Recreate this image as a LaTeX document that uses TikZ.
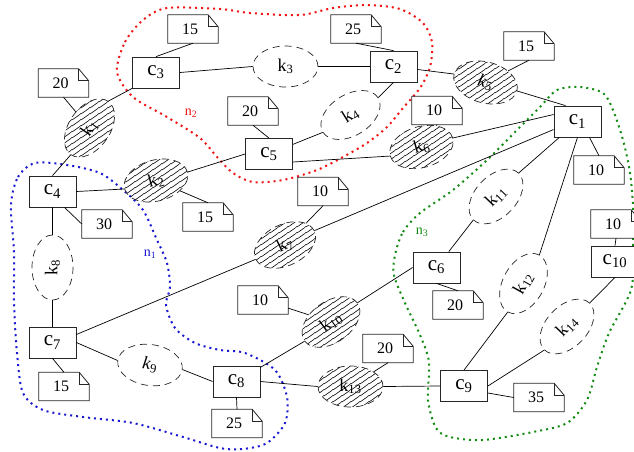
\documentclass[tikz,border=0pt]{standalone}
\usepackage{fontspec}
\setmainfont{Liberation Serif}
\usetikzlibrary{shapes.geometric,patterns}
\pgfdeclarepatternformonly{hatchlines}{\pgfqpoint{0pt}{0pt}}{\pgfqpoint{9pt}{6.3pt}}{\pgfqpoint{9pt}{6.3pt}}{%
  \pgfsetdash{}{0pt}%
  \pgfsetlinewidth{0.65pt}%
  \pgfpathmoveto{\pgfqpoint{0pt}{0pt}}%
  \pgfpathlineto{\pgfqpoint{9pt}{6.3pt}}%
  \pgfpathmoveto{\pgfqpoint{9pt}{0pt}}%
  \pgfpathlineto{\pgfqpoint{18pt}{6.3pt}}%
  \pgfpathmoveto{\pgfqpoint{-9pt}{0pt}}%
  \pgfpathlineto{\pgfqpoint{0pt}{6.3pt}}%
  \pgfusepath{stroke}}
\definecolor{regred}{RGB}{240,20,20}
\definecolor{regblue}{RGB}{25,25,210}
\definecolor{reggreen}{RGB}{20,140,20}
\newcommand\notebox[3]{%
  \node[note] (#1) at (#2) {\kern-6pt#3};
  \draw[noteline] (#1.north west) -- ([xshift=-10pt]#1.north east) -- ([yshift=-12pt]#1.north east) -- (#1.south east) -- (#1.south west) -- cycle;
  \draw[noteline] ([xshift=-10pt]#1.north east) -- ([xshift=-10pt,yshift=-12pt]#1.north east) -- ([yshift=-12pt]#1.north east);
}
\begin{document}
\begin{tikzpicture}[x=1pt,y=-1pt,
  cbox/.style={draw=black!85, line width=0.8pt, fill=white, minimum width=47pt, minimum height=31pt, inner sep=0pt, font=\fontsize{21}{25}\selectfont},
  note/.style={fill=white, minimum width=50pt, minimum height=28pt, inner sep=0pt, font=\fontsize{16}{19}\selectfont},
  noteline/.style={draw=black!85, line width=0.8pt, line join=miter},
  kd/.style={ellipse, draw=black!85, dash pattern=on 7pt off 5pt, line width=0.7pt, minimum width=65pt, minimum height=41pt, inner sep=0pt, font=\fontsize{18}{21}\selectfont},
  kh/.style={kd, pattern=hatchlines},
  link/.style={line width=0.7pt},
  region/.style={line width=2pt, dash pattern=on 2pt off 4pt},
  nlab/.style={font=\fontsize{14}{16}\selectfont, inner sep=1pt}
]
\useasboundingbox (0,0) rectangle (634,451);

% regions
\draw[region, regred] plot[smooth cycle] coordinates {(117,72) (125,42) (143,20) (167,8) (220,9) (250,13) (300,15) (333,8) (367,5) (400,9) (423,23) (432,42) (430,67) (420,88) (403,108) (387,127) (367,143) (343,157) (317,170) (283,180) (253,182) (233,173) (217,157) (200,138) (167,117) (133,97)};
\draw[region, regblue] plot[smooth cycle] coordinates {(11,205) (18,177) (35,163) (67,165) (100,173) (123,190) (143,210) (157,240) (167,263) (170,287) (166,305) (175,328) (195,343) (220,350) (245,353) (275,370) (287,397) (285,423) (267,443) (243,449) (220,448) (183,437) (133,423) (83,417) (43,410) (23,393) (17,353) (14,303) (14,253)};
\draw[region, reggreen] plot[smooth cycle] coordinates {(395,255) (403,232) (420,213) (453,190) (487,160) (520,127) (540,107) (557,90) (580,87) (603,93) (613,110) (623,140) (630,173) (633,207) (633,250) (631,290) (609,333) (597,367) (587,400) (567,423) (533,432) (483,440) (450,437) (436,428) (428,400) (429,362) (420,335) (405,303) (394,275)};

\node[nlab, text=regred] (n2lab) at (191,113) {n\textsubscript{2}};
\node[nlab, text=regblue] (n1lab) at (150,254) {n\textsubscript{1}};
\node[nlab, text=reggreen] (n3lab) at (422,232) {n\textsubscript{3}};

% boxes
\node[cbox] (c1) at (577.5,121.5) {c\textsubscript{1}};
\node[cbox] (c2) at (393.5,66.5) {c\textsubscript{2}};
\node[cbox] (c3) at (156,72.5) {c\textsubscript{3}};
\node[cbox] (c4) at (52.5,191.5) {c\textsubscript{4}};
\node[cbox] (c5) at (269,154) {c\textsubscript{5}};
\node[cbox] (c6) at (436.5,267.5) {c\textsubscript{6}};
\node[cbox] (c7) at (52.5,342.5) {c\textsubscript{7}};
\node[cbox] (c8) at (236.5,381.5) {c\textsubscript{8}};
\node[cbox] (c9) at (464,386) {c\textsubscript{9}};
\node[cbox] (c10) at (615,261.5) {c\textsubscript{10}};

% links
\node[kh, rotate=55] (k1) at (89.5,128) {k\textsubscript{1}};
\node[kh, rotate=15] (k2) at (156,180.5) {k\textsubscript{2}};
\node[kd] (k3) at (285.5,66.5) {k\textsubscript{3}};
\node[kd, rotate=32] (k4) at (350.5,115) {k\textsubscript{4}};
\node[kh, rotate=-15] (k5) at (485.5,82.5) {\textit{k}\textsubscript{5}};
\node[kh, rotate=16] (k6) at (421.5,147) {k\textsubscript{6}};
\node[kh, rotate=26] (k7) at (285,245) {k\textsubscript{7}};
\node[kd, rotate=90] (k8) at (52.5,267.5) {k\textsubscript{8}};
\node[kd, rotate=-8] (k9) at (150,365) {\textit{k}\textsubscript{9}};
\node[kh, rotate=36] (k10) at (331,322) {k\textsubscript{10}};
\node[kd, rotate=46] (k11) at (496,196.5) {k\textsubscript{11}};
\node[kd, rotate=61] (k12) at (523.5,283.5) {k\textsubscript{12}};
\node[kh] (k13) at (350.5,386.5) {k\textsubscript{13}};
\node[kd, rotate=46] (k14) at (567,326.5) {k\textsubscript{14}};

% notes
\notebox{nA}{193,29}{15}
\notebox{nB}{63.5,83}{20}
\notebox{nC}{356,29}{25}
\notebox{nD}{529,46}{15}
\notebox{nE}{253,111}{20}
\notebox{nF}{437,110.5}{10}
\notebox{nG}{599,170}{10}
\notebox{nH}{616,224}{10}
\notebox{nI}{107,224}{30}
\notebox{nJ}{208,217}{15}
\notebox{nK}{323,191.5}{10}
\notebox{nL}{263,300}{10}
\notebox{nM}{458,305}{20}
\notebox{nN}{64,386.5}{15}
\notebox{nO}{237,423.5}{25}
\notebox{nP}{388,348.5}{20}
\notebox{nQ}{539,397.5}{35}

% connectors
\draw[link] (c4.north) -- (k1.west);
\draw[link] (k1.east) -- (c3.south west);
\draw[link] (nB.south) -- (k1);
\draw[link] (c4.east) -- (k2.west);
\draw[link] (k2.east) -- (c5.west);
\draw[link] (nJ.north) -- (k2);
\draw[link] (c3.east) -- (k3.west);
\draw[link] (k3.east) -- (c2.west);
\draw[link] (c5) -- (k4.west);
\draw[link] (k4.east) -- (c2.south);
\draw[link] (c2) -- (k5.west);
\draw[link] (k5.east) -- ([xshift=-12pt]c1.north);
\draw[link] (nD.south) -- (k5);
\draw[link] ([yshift=-8pt]c5.east) -- (k6.west);
\draw[link] (k6.east) -- ([yshift=7pt]c1.west);
\draw[link] (nF.south) -- (k6);
\draw[link] ([yshift=8pt]c7.east) -- (k7.west);
\draw[link] (k7.east) -- ([yshift=-8pt]c1.west);
\draw[link] (nK.south) -- (k7);
\draw[link] (c4.south) -- (k8.east);
\draw[link] (k8.west) -- (c7.north);
\draw[link] (c7.east) -- (k9.west);
\draw[link] (k9.east) -- (c8.west);
\draw[link] (c8) -- (k10.west);
\draw[link] (k10.east) -- (c6.west);
\draw[link] (nL) -- (k10);
\draw[link] (c8.east) -- (k13.west);
\draw[link] (k13.east) -- (c9.west);
\draw[link] (nP.south) -- (k13);
\draw[link] (c6) -- (k11.west);
\draw[link] (k11.east) -- (c1);
\draw[link] (c9.north) -- (k12.west);
\draw[link] (k12.east) -- (c1.south);
\draw[link] (c9.east) -- (k14.west);
\draw[link] (k14.east) -- (c10.south);
\draw[link] (nA.south) -- (c3.north);
\draw[link] (nC.south) -- (c2.north);
\draw[link] (nE.south) -- (c5.north);
\draw[link] ([xshift=12pt]c1.south) -- (nG.north);
\draw[link] (nH.south) -- (c10.north);
\draw[link] ([xshift=12pt]c4.south) -- (nI.west);
\draw[link] (c7.south) -- (nN.north);
\draw[link] (c8.south) -- (nO.north);
\draw[link] (c6.south) -- (nM.north);
\draw[link] ([yshift=-7pt]c9.east) -- (nQ.west);
\end{tikzpicture}
\end{document}
